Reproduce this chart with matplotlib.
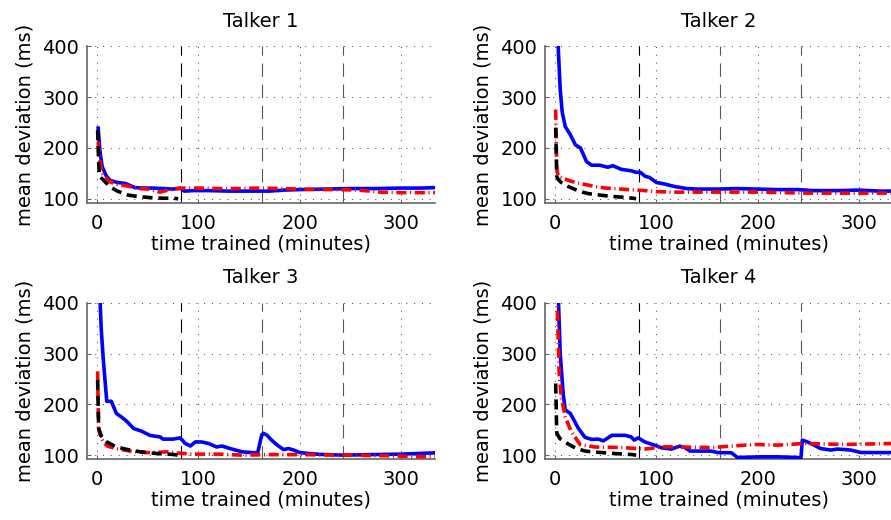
import matplotlib
matplotlib.use("Agg")
import matplotlib.pyplot as plt

# ---- data (time in minutes, mean deviation in ms) ----
titles = ["Talker 1", "Talker 2", "Talker 3", "Talker 4"]
session_marks = [83, 163, 243]

t1_blue_t = [1, 3, 5, 9, 13, 20, 28, 37, 45, 55, 65, 75, 82, 86, 95, 110, 130, 150, 170, 185, 200, 225, 250, 275, 300, 320, 335]
t1_blue_v = [239, 190, 163, 145, 136, 132, 130, 122, 121, 121, 120, 119, 121, 115, 116, 116, 115, 115, 115, 117, 118, 119, 120, 120, 121, 121, 122]
t1_red_t = [1, 3, 5, 9, 13, 20, 30, 40, 50, 62, 70, 80, 86, 100, 120, 140, 160, 180, 200, 220, 240, 257, 270, 280, 300, 320, 335]
t1_red_v = [212, 170, 150, 140, 133, 128, 125, 120, 119, 113, 117, 120, 121, 121, 120, 120, 121, 120, 119, 118, 118, 117, 115, 113, 112, 112, 112]
t1_black_t = [0.5, 1, 2, 3, 8, 13, 20, 31, 42, 54, 65, 75, 80]
t1_black_v = [235, 200, 150, 143, 133, 123, 115, 107, 104, 102, 101, 101, 100]

t2_blue_t = [2.5, 3, 5, 7, 10, 15, 20, 25, 31, 36, 44, 52, 57, 65, 75, 80, 84, 89, 93, 100, 108, 118, 130, 140, 160, 180, 200, 220, 240, 255, 280, 300, 320, 335]
t2_blue_v = [460, 400, 315, 270, 242, 226, 206, 200, 173, 166, 166, 162, 165, 158, 155, 152, 152, 144, 142, 132, 129, 124, 120, 119, 119, 120, 119, 118, 118, 116, 116, 117, 115, 115]
t2_red_t = [0.5, 1, 1.5, 3, 8, 15, 22, 30, 39, 50, 65, 80, 89, 100, 115, 130, 150, 175, 200, 225, 250, 275, 300, 320, 335]
t2_red_v = [275, 230, 160, 145, 140, 135, 131, 128, 124, 121, 119, 117, 116, 114, 113, 113, 113, 113, 113, 112, 111, 111, 111, 111, 111]
t2_black_t = [0.5, 1, 1.6, 3, 6, 13, 20, 27, 33, 45, 56, 67, 77, 80]
t2_black_v = [240, 200, 144, 138, 132, 124, 118, 113, 110, 107, 104.5, 103, 101, 100]

t3_blue_t = [3, 4, 6, 9.5, 14, 19, 24, 29, 36, 44, 52, 58, 62, 65, 75, 82, 87, 92, 97, 103, 110, 118, 123, 133, 143, 153, 158.5, 162.5, 164, 167.5, 172, 177, 184, 189, 194, 200, 210, 220, 243, 270, 300, 335]
t3_blue_v = [400, 350, 290, 206, 206, 182, 175, 167, 152.5, 147, 139, 137, 136, 131.5, 131.5, 134, 123, 118, 126, 126, 123, 116, 118, 112, 106.5, 105, 104.6, 140, 143, 139.5, 130, 121, 111, 113, 110, 105, 103, 101.5, 100, 101, 102, 104.6]
t3_red_t = [0.5, 1, 1.5, 3, 6, 10, 18, 27, 37, 50, 70, 80, 93, 120, 143, 170, 200, 250, 280, 300, 315, 335]
t3_red_v = [265, 200, 152, 140, 126, 118, 113, 110, 106.5, 105, 106.5, 104, 102, 102, 100, 101, 101, 100, 99, 98, 97, 97]
t3_black_t = [0.5, 1, 1.5, 4, 9.5, 18, 27.6, 38, 49, 60, 74, 80]
t3_black_v = [248, 200, 153, 138, 126, 117, 112, 108, 105, 103, 101.5, 100]

t4_blue_t = [3, 5, 8, 10, 15, 23, 29.5, 36, 42.6, 47.5, 56, 69, 75, 78, 82, 88.5, 98, 105, 115, 123, 128, 133, 154, 160.6, 174, 180, 203, 220, 239, 242.6, 244, 249, 255.6, 262, 272, 278.6, 291.8, 301.6, 320, 335]
t4_blue_v = [420, 300, 220, 189, 182, 152.5, 135, 131, 131.5, 128, 139, 139, 136, 129.5, 134, 126, 119.7, 114.4, 112, 117.7, 115, 108, 108, 105, 104.6, 95.4, 96.7, 96.7, 95.4, 94, 129.5, 126, 119.7, 113, 110, 112, 110, 105.2, 105, 105]
t4_red_t = [1.5, 2, 3, 4, 6, 10, 16, 24.6, 39, 65.5, 88.5, 108, 154, 197, 220, 246, 285, 335]
t4_red_v = [420, 400, 330, 260, 215, 175, 146, 121, 116, 115, 112, 116.4, 115, 121, 119.7, 123, 121, 123]
t4_black_t = [0.5, 1, 1.6, 5, 13, 20, 29.5, 39, 49, 60, 75, 80]
t4_black_v = [241, 200, 143, 132, 121.7, 114, 108, 106, 104.6, 103, 101.3, 100]

series = [
    (t1_blue_t, t1_blue_v, t1_red_t, t1_red_v, t1_black_t, t1_black_v),
    (t2_blue_t, t2_blue_v, t2_red_t, t2_red_v, t2_black_t, t2_black_v),
    (t3_blue_t, t3_blue_v, t3_red_t, t3_red_v, t3_black_t, t3_black_v),
    (t4_blue_t, t4_blue_v, t4_red_t, t4_red_v, t4_black_t, t4_black_v),
]

plt.rcParams["font.family"] = "DejaVu Sans"
plt.rcParams["font.size"] = 14

fig = plt.figure(figsize=(8.91, 5.20), dpi=100)

# axes boxes in figure fractions (left, bottom, width, height)
W, H = 348 / 891, 156.5 / 520
positions = [
    (87 / 891, (520 - 202.8) / 520, W, H),
    (545 / 891, (520 - 202.8) / 520, W, H),
    (87 / 891, (520 - 459.2) / 520, W, H),
    (545 / 891, (520 - 459.2) / 520, W, H),
]

for i, pos in enumerate(positions):
    ax = fig.add_axes(pos)
    bt, bv, rt, rv, kt, kv = series[i]

    for j, m in enumerate(session_marks):
        ax.axvline(m, color="black" if j == 0 else "0.35", lw=0.8,
                   linestyle=(0, (12, 7)), zorder=1)

    ax.plot(bt, bv, color="#0000ff", lw=2.6, zorder=3)
    ax.plot(rt, rv, color="#ff0000", lw=2.6, linestyle=(0, (2.8, 1.0, 0.3, 1.0)), zorder=4)
    ax.plot(kt, kv, color="black", lw=2.6, linestyle=(0, (2.8, 1.6)), zorder=5)

    ax.set_xlim(-10, 333.5)
    ax.set_ylim(92, 400)
    ax.set_xticks([0, 100, 200, 300])
    ax.set_yticks([100, 200, 300, 400])
    ax.grid(True, color="0.25", lw=0.7, linestyle=(0, (1, 7)))
    ax.set_axisbelow(True)

    for s in ["top", "right"]:
        ax.spines[s].set_visible(False)
    for s in ["left", "bottom"]:
        ax.spines[s].set_color("0.4")
        ax.spines[s].set_linewidth(1.2)
    ax.tick_params(axis="both", direction="in", length=3, color="0.4", labelsize=14)
    ax.tick_params(axis="x", pad=8)
    ax.tick_params(axis="y", pad=5.5)

    ax.set_title(titles[i], fontsize=14, pad=14)
    ax.set_xlabel("time trained (minutes)", fontsize=14, labelpad=1)
    ax.set_ylabel("mean deviation (ms)", fontsize=14, labelpad=6)

fig.savefig("out.png", dpi=100)
